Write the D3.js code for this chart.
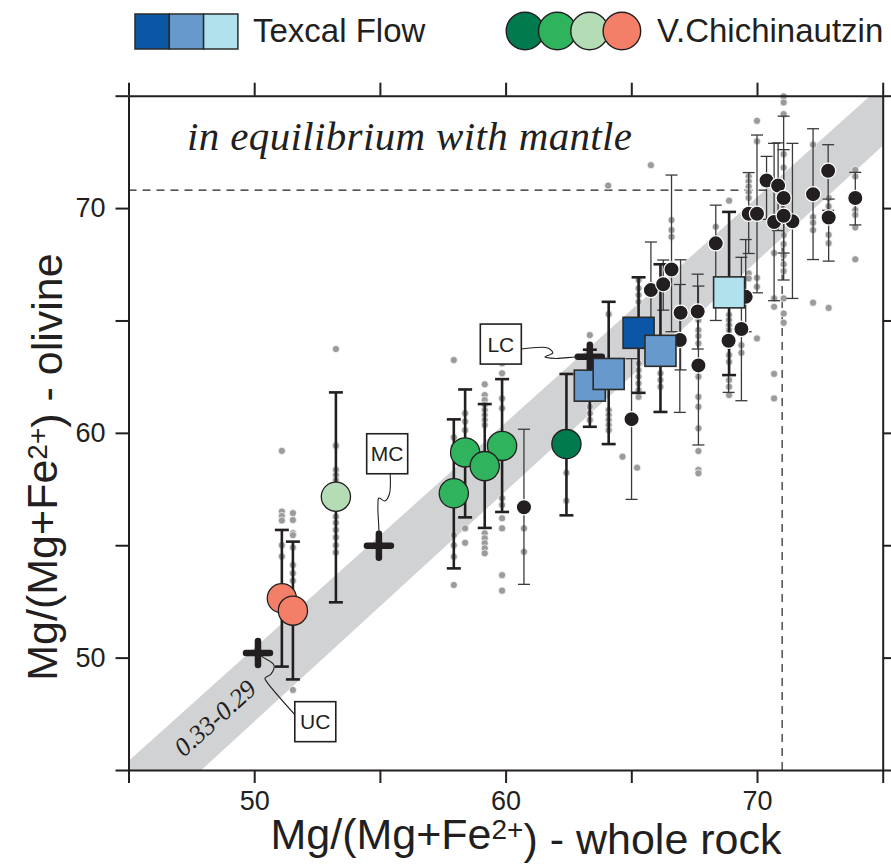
<!DOCTYPE html>
<html>
<head>
<meta charset="utf-8">
<script src="https://cdn.jsdelivr.net/npm/d3@7"></script>
<style>
  body { margin: 0; background: #fff; }
  text { font-family: "Liberation Sans", Arial, Helvetica, sans-serif; fill: #231f20; }
</style>
</head>
<body>
<svg id="chart" width="891" height="866"></svg>
<script>
// ---- axes -------------------------------------------------------------
const xTicks = [45, 50, 55, 60, 65, 70, 75];
const yTicks = [45, 50, 55, 60, 65, 70, 75];
const xTickLabels = [50, 60, 70];
const yTickLabels = [50, 60, 70];
const xTitle = ["Mg/(Mg+Fe", "2+", ") - whole rock"];
const yTitle = ["Mg/(Mg+Fe", "2+", ") - olivine"];

// ---- V. Chichinautzin (mean olivine Mg#, error range, single analyses) --
const chichinautzin = [
  { tone: "salmon", wr: 51.10, ol: 52.64, lo: 49.60, hi: 55.68, oliv: [59.2, 56.5, 56.3, 56.1, 55.0, 54.5] },
  { tone: "salmon", wr: 51.54, ol: 52.09, lo: 49.03, hi: 55.16, oliv: [56.43, 56.12, 55.54, 55.45, 54.9, 54.12, 53.75, 53.42, 48.56] },
  { tone: "light",  wr: 53.25, ol: 57.16, lo: 52.46, hi: 61.80, oliv: [63.73, 59.43, 58.35, 58.12, 57.9, 56.27, 56.0, 55.68, 55.35, 55.0, 54.68] },
  { tone: "mid",    wr: 57.94, ol: 57.31, lo: 53.97, hi: 60.60, oliv: [63.24, 59.8, 59.38, 55.45, 55.0, 54.49, 53.23] },
  { tone: "mid",    wr: 58.39, ol: 59.13, lo: 56.24, hi: 61.93, oliv: [60.87, 60.5, 60.12, 55.75, 55.11] },
  { tone: "mid",    wr: 59.86, ol: 59.42, lo: 56.48, hi: 62.39, oliv: [63.09, 62.65, 61.53, 61.09, 57.09, 56.79, 56.2, 55.75, 53.67, 52.98] },
  { tone: "mid",    wr: 59.17, ol: 58.52, lo: 55.77, hi: 61.28, oliv: [62.16, 61.68, 61.46, 61.24, 61.01, 60.79, 60.57, 60.35, 55.53, 55.31, 55.09, 54.86, 54.64] },
  { tone: "dark",   wr: 62.42, ol: 59.50, lo: 56.33, hi: 62.62, oliv: [58.22, 56.98] }
];

// ---- Texcal Flow --------------------------------------------------------
const texcal = [
  { tone: "mid",   wr: 63.35, ol: 62.10, lo: 60.27, hi: 63.70, oliv: [64.35, 61.16, 60.87, 60.57] },
  { tone: "mid",   wr: 64.10, ol: 62.62, lo: 59.50, hi: 65.83, oliv: [65.28, 61.01, 60.79, 60.57, 60.35, 60.12] },
  { tone: "dark",  wr: 65.29, ol: 64.45, lo: 61.78, hi: 66.92, oliv: [66.8, 66.43, 66.13, 65.83, 63.09, 62.79, 62.5, 62.2, 61.9, 61.6] },
  { tone: "mid",   wr: 66.16, ol: 63.65, lo: 60.93, hi: 67.50, oliv: [62.65, 62.35, 62.05] },
  { tone: "light", wr: 68.89, ol: 66.25, lo: 62.57, hi: 69.83, oliv: [70.33, 65.24, 65.02, 64.79, 64.57, 63.46, 63.16, 62.35, 62.05, 61.68] }
];

// ---- other Mexican volcanic belt lavas ---------------------------------
const otherLavas = [
  { wr: 60.73, ol: 56.69, lo: 53.26, hi: 60.16, oliv: [55.75, 54.71] },
  { wr: 65.01, ol: 60.61, lo: 57.04, hi: 63.30, oliv: [] },
  { wr: 65.78, ol: 66.35, lo: 63.60, hi: 68.49, oliv: [] },
  { wr: 66.27, ol: 66.61, lo: 65.46, hi: 67.69, oliv: [] },
  { wr: 66.60, ol: 67.27, lo: 64.50, hi: 71.47, oliv: [69.47, 69.02, 68.72] },
  { wr: 66.96, ol: 65.34, lo: 62.80, hi: 67.70, oliv: [] },
  { wr: 66.93, ol: 64.13, lo: 60.91, hi: 66.60, oliv: [] },
  { wr: 67.64, ol: 65.40, lo: 63.73, hi: 67.06, oliv: [] },
  { wr: 67.67, ol: 63.00, lo: 59.46, hi: 66.53, oliv: [65.02, 64.57, 64.31, 63.98, 62.5, 61.6, 61.16, 60.2, 59.19, 58.35, 58.2] },
  { wr: 68.36, ol: 68.43, lo: 65.00, hi: 70.13, oliv: [69.17] },
  { wr: 68.87, ol: 64.10, lo: 61.80, hi: 66.00, oliv: [] },
  { wr: 69.38, ol: 64.62, lo: 61.43, hi: 67.81, oliv: [63.9, 63.56] },
  { wr: 69.55, ol: 66.05, lo: 64.50, hi: 68.60, oliv: [] },
  { wr: 69.67, ol: 69.75, lo: 67.98, hi: 71.58, oliv: [71.41, 71.19, 70.96, 70.71, 70.45, 67.1, 66.87] },
  { wr: 70.00, ol: 69.75, lo: 66.23, hi: 73.25, oliv: [73.88, 72.97, 66.9, 66.5, 64.2] },
  { wr: 70.38, ol: 71.23, lo: 69.50, hi: 72.30, oliv: [] },
  { wr: 70.84, ol: 71.00, lo: 69.00, hi: 72.90, oliv: [] },
  { wr: 71.06, ol: 70.45, lo: 68.00, hi: 72.60, oliv: [] },
  { wr: 70.68, ol: 69.38, lo: 65.88, hi: 72.88, oliv: [68.0, 65.98, 65.61, 62.62, 61.53] },
  { wr: 71.41, ol: 69.41, lo: 65.98, hi: 72.88, oliv: [] },
  { wr: 71.06, ol: 69.66, lo: 66.80, hi: 74.09, oliv: [74.97, 74.7, 74.18, 72.4, 71.8, 68.8, 68.4, 67.9, 67.5, 67.2, 65.98, 65.31, 64.9] },
  { wr: 72.23, ol: 70.62, lo: 67.71, hi: 73.53, oliv: [72.82, 69.6, 69.35, 69.02, 65.79] },
  { wr: 72.83, ol: 71.66, lo: 69.90, hi: 72.82, oliv: [] },
  { wr: 72.85, ol: 69.58, lo: 67.64, hi: 70.40, oliv: [70.45, 70.08, 68.81, 68.44, 65.56] },
  { wr: 73.91, ol: 70.45, lo: 69.25, hi: 71.59, oliv: [71.7, 71.41, 69.92, 69.7, 69.14, 67.72] }
];

// scattered single olivine analyses [whole rock, olivine]
const scatteredOlivine = [[65.78, 71.91], [64.08, 71.0], [64.65, 58.94], [65.23, 58.45]];

// continental crust averages
const crust = [
  { label: "UC", wr: 50.15, ol: 50.20, boxWr: 52.43, boxOl: 47.15 },
  { label: "MC", wr: 54.96, ol: 54.98, boxWr: 55.29, boxOl: 59.07 },
  { label: "LC", wr: 63.35, ol: 63.39, boxWr: 59.81, boxOl: 63.95 }
];

// Fe-Mg exchange band (Kd 0.33-0.29) edges
const bandUpper = [[44, 44.4], [76, 76.5]];
const bandLower = [[44, 41.0], [76, 73.8]];
const kdLabel = { text: "0.33-0.29", wr: 48.45, ol: 47.3 };
// primitive melt in equilibrium with mantle olivine
const mantle = { wr: 71.0, ol: 70.8 };

// ---- styling -------------------------------------------------------------
const ink = "#231f20";
const greens = { dark: "#017a4e", mid: "#2fb35c", light: "#b4dcb5", salmon: "#f47f69" };
const blues = { dark: "#0b56a5", mid: "#6799cd", light: "#b2e1ee" };
const grayDot = "#9b9b9b";

const svg = d3.select("#chart");
const x = d3.scaleLinear().domain([45, 75]).range([128.5, 882.7]);
const y = d3.scaleLinear().domain([45, 75]).range([770, 95.7]);

svg.append("defs").append("clipPath").attr("id", "plot")
  .append("rect").attr("x", x(45)).attr("y", y(75))
  .attr("width", x(75) - x(45)).attr("height", y(45) - y(75));

// Kd band
const bandPts = bandUpper.concat(bandLower.slice().reverse());
svg.append("path")
  .attr("clip-path", "url(#plot)")
  .attr("d", d3.line().x(d => x(d[0])).y(d => y(d[1]))(bandPts) + "Z")
  .attr("fill", "#d1d2d4");

svg.append("text")
  .attr("transform", `translate(${x(kdLabel.wr)},${y(kdLabel.ol)}) rotate(-41.8)`)
  .attr("text-anchor", "middle").attr("dominant-baseline", "central")
  .style("font-family", "'Liberation Serif', 'DejaVu Serif', serif")
  .style("font-style", "italic").style("font-size", "26px")
  .text(kdLabel.text);

// mantle equilibrium reference lines
const dashG = svg.append("g").attr("stroke", ink).attr("stroke-width", 1.2)
  .attr("stroke-dasharray", "8,6").attr("fill", "none");
dashG.append("line").attr("x1", x(45)).attr("x2", x(mantle.wr))
  .attr("y1", y(mantle.ol)).attr("y2", y(mantle.ol));
dashG.append("line").attr("x1", x(mantle.wr)).attr("x2", x(mantle.wr))
  .attr("y1", y(45)).attr("y2", y(mantle.ol));

// single olivine analyses
const allSeries = otherLavas.concat(chichinautzin, texcal);
const dotData = [];
allSeries.forEach(s => s.oliv.forEach(v => dotData.push([s.wr, v])));
scatteredOlivine.forEach(d => dotData.push(d));
svg.append("g").selectAll("circle").data(dotData).join("circle")
  .attr("cx", d => x(d[0])).attr("cy", d => y(d[1])).attr("r", 3.6)
  .attr("fill", grayDot).attr("stroke", "#fff").attr("stroke-width", 0.7);

// error bars
function errorBars(data, width, cap, color) {
  const g = svg.append("g").attr("stroke", color).attr("stroke-width", width);
  data.forEach(d => {
    g.append("line").attr("x1", x(d.wr)).attr("x2", x(d.wr)).attr("y1", y(d.lo)).attr("y2", y(d.hi));
    [d.lo, d.hi].forEach(v => g.append("line")
      .attr("x1", x(d.wr) - cap).attr("x2", x(d.wr) + cap).attr("y1", y(v)).attr("y2", y(v)));
  });
}
errorBars(otherLavas, 1.3, 6, "#3a3a3a");
errorBars(chichinautzin.concat(texcal), 2.6, 7, ink);

// other lavas
svg.append("g").selectAll("circle").data(otherLavas).join("circle")
  .attr("cx", d => x(d.wr)).attr("cy", d => y(d.ol)).attr("r", 7.6)
  .attr("fill", ink).attr("stroke", "#fff").attr("stroke-width", 1.2);

// crust averages with callouts
const crossArm = 15;
const leaders = {
  UC: { from: "cross", pts: [[5, 4], [16, 12], [13, 21], [7, 25], [9, 29]], to: "boxLeft" },
  MC: { from: "boxBottom", pts: [[10.5, -51.7], [6, -44.7], [0, -47.7], [-1, -39.7], [0, -15.7]], to: "cross" },
  LC: { from: "boxRight", pts: [[-42, -8.7], [-37, -3.7], [-45, 0.3], [-34, 1.8], [-14, 0.3]], to: "cross" }
};
const boxW = 41, boxH = 40;
crust.forEach(c => {
  const cx = x(c.wr), cy = y(c.ol), bx = x(c.boxWr), by = y(c.boxOl);
  const L = leaders[c.label];
  const anchors = {
    cross: [cx, cy],
    boxLeft: [bx - boxW / 2, by - boxH / 2 + 13],
    boxBottom: [bx + 3, by + boxH / 2],
    boxRight: [bx + boxW / 2, by + 5]
  };
  const pts = [anchors[L.from]].concat(L.pts.map(p => [cx + p[0], cy + p[1]]), [anchors[L.to]]);
  svg.append("path").attr("d", d3.line().curve(d3.curveCatmullRom)(pts))
    .attr("fill", "none").attr("stroke", ink).attr("stroke-width", 1.1);
  const g = svg.append("g").attr("stroke", ink).attr("stroke-width", 6.5).attr("stroke-linecap", "round");
  g.append("line").attr("x1", cx - crossArm + 3).attr("x2", cx + crossArm - 3).attr("y1", cy).attr("y2", cy);
  g.append("line").attr("x1", cx).attr("x2", cx).attr("y1", cy - crossArm + 3).attr("y2", cy + crossArm - 3);
  svg.append("rect").attr("x", bx - boxW / 2).attr("y", by - boxH / 2).attr("width", boxW).attr("height", boxH)
    .attr("fill", "#fff").attr("stroke", ink).attr("stroke-width", 1.6);
  svg.append("text").attr("x", bx).attr("y", by).attr("text-anchor", "middle")
    .attr("dominant-baseline", "central").style("font-size", "21px").text(c.label);
});

// V. Chichinautzin
svg.append("g").selectAll("circle").data(chichinautzin).join("circle")
  .attr("cx", d => x(d.wr)).attr("cy", d => y(d.ol)).attr("r", 14.6)
  .attr("fill", d => greens[d.tone]).attr("stroke", ink).attr("stroke-width", 1.3);

// Texcal Flow
const sq = 31;
svg.append("g").selectAll("rect").data(texcal).join("rect")
  .attr("x", d => x(d.wr) - sq / 2).attr("y", d => y(d.ol) - sq / 2)
  .attr("width", sq).attr("height", sq)
  .attr("fill", d => blues[d.tone]).attr("stroke", "#2b2b2b").attr("stroke-width", 1.6);

// frame axes
const fmt = labels => d => labels.includes(d) ? d : "";
function styleAxis(g) {
  g.selectAll("path, line").attr("stroke", ink).attr("stroke-width", 2);
  g.selectAll("text").style("font-size", "27px").attr("fill", ink)
    .style("font-family", "'Liberation Sans', Arial, sans-serif");
}
svg.append("g").attr("transform", `translate(0,${y(45)})`)
  .call(d3.axisBottom(x).tickValues(xTicks).tickSize(13).tickSizeOuter(0).tickPadding(8).tickFormat(fmt(xTickLabels)))
  .call(styleAxis);
svg.append("g").attr("transform", `translate(0,${y(75)})`)
  .call(d3.axisTop(x).tickValues(xTicks).tickSize(13).tickSizeOuter(0).tickFormat(""))
  .call(styleAxis);
svg.append("g").attr("transform", `translate(${x(45)},0)`)
  .call(d3.axisLeft(y).tickValues(yTicks).tickSize(13).tickSizeOuter(0).tickPadding(10).tickFormat(fmt(yTickLabels)))
  .call(styleAxis);
svg.append("g").attr("transform", `translate(${x(75)},0)`)
  .call(d3.axisRight(y).tickValues(yTicks).tickSize(13).tickSizeOuter(0).tickFormat(""))
  .call(styleAxis);

// axis titles
function title(parts, attrs) {
  const t = svg.append("text").style("font-size", "43px").attr("text-anchor", "middle");
  Object.entries(attrs).forEach(([k, v]) => t.attr(k, v));
  t.append("tspan").text(parts[0]);
  t.append("tspan").attr("dy", "-0.36em").style("font-size", "28px").text(parts[1]);
  t.append("tspan").attr("dy", "0.36em").text(parts[2]);
}
title(xTitle, { x: 526, y: 849 });
title(yTitle, { transform: "translate(57,467) rotate(-90)" });

// annotation
svg.append("text").attr("x", x(47.33)).attr("y", 150)
  .style("font-family", "'Liberation Serif', 'DejaVu Serif', serif")
  .style("font-style", "italic").style("font-size", "41px")
  .attr("textLength", 445).attr("lengthAdjust", "spacing")
  .text("in equilibrium with mantle");

// legend
const legend = svg.append("g");
["dark", "mid", "light"].forEach((k, i) => legend.append("rect")
  .attr("x", 135 + i * 34.3).attr("y", 14).attr("width", 34.3).attr("height", 35)
  .attr("fill", blues[k]).attr("stroke", "#2b2b2b").attr("stroke-width", 1.5));
legend.append("text").attr("x", 253).attr("y", 42).style("font-size", "33px").text("Texcal Flow");
["dark", "mid", "light", "salmon"].forEach((k, i) => legend.append("circle")
  .attr("cx", 525 + i * 32.3).attr("cy", 31).attr("r", 18.8)
  .attr("fill", greens[k]).attr("stroke", ink).attr("stroke-width", 1.4));
legend.append("text").attr("x", 657).attr("y", 42).style("font-size", "33px").text("V.Chichinautzin");
</script>
</body>
</html>
